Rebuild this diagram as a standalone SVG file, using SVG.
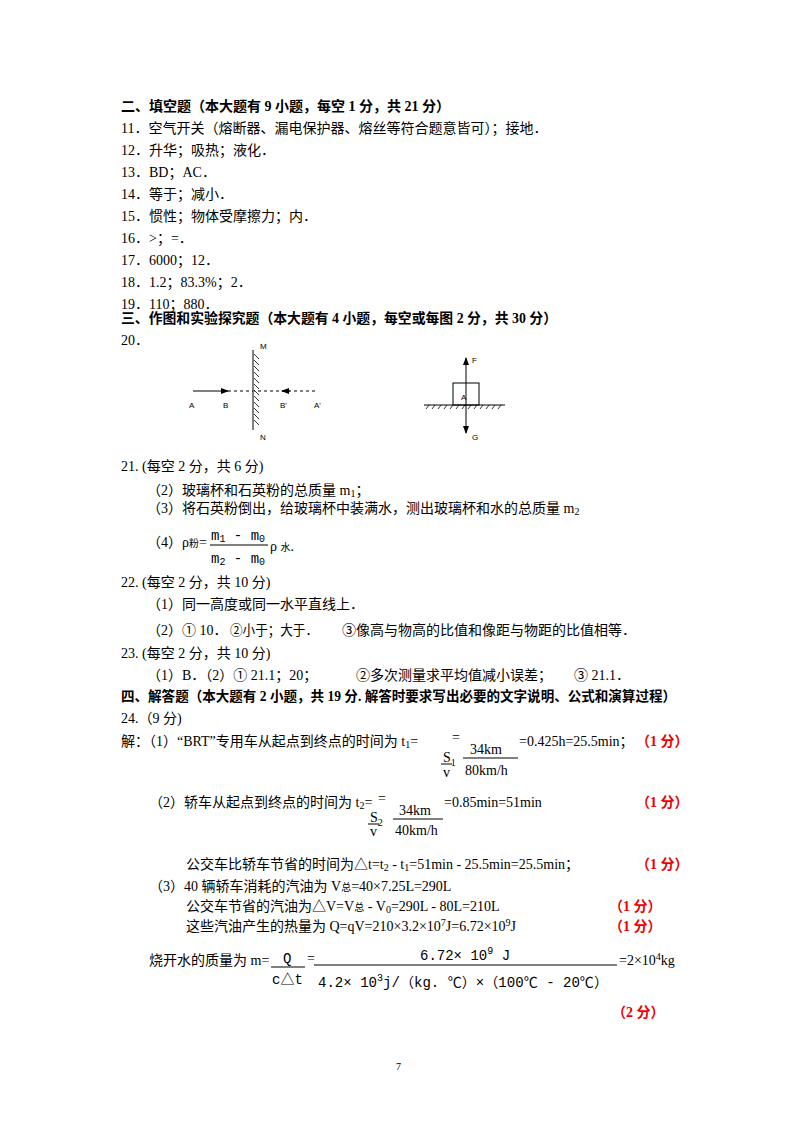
<svg xmlns="http://www.w3.org/2000/svg" width="800" height="1132" viewBox="0 0 800 1132">
<defs>
<style>
text{font-family:"Liberation Serif","Noto Sans CJK SC",serif;font-size:14px;fill:#000}
.b{font-weight:bold}
.r{fill:#e00;font-weight:bold}
.s{font-size:10px}
.m{font-family:"Liberation Mono","Noto Sans CJK SC",monospace;font-size:14px}
.f{font-family:"Liberation Sans",sans-serif;font-size:8px}
line{stroke:#000;stroke-width:1}
.d{stroke-dasharray:3,3}
</style>
<marker id="ar" markerWidth="8" markerHeight="6" refX="7" refY="3" orient="auto" markerUnits="userSpaceOnUse"><path d="M0,0L8,3L0,6z" fill="#000"/></marker>
</defs>
<rect width="800" height="1132" fill="#fff"/>
<text x="121" y="111" class="b">二、填空题（本大题有 9 小题，每空 1 分，共 21 分）</text>
<text x="121" y="133">11．空气开关（熔断器、漏电保护器、熔丝等符合题意皆可）；接地．</text>
<text x="121" y="155">12．升华；吸热；液化．</text>
<text x="121" y="177">13．BD；AC．</text>
<text x="121" y="199">14．等于；减小．</text>
<text x="121" y="221">15．惯性；物体受摩擦力；内．</text>
<text x="121" y="243">16．&gt;；=．</text>
<text x="121" y="265">17．6000；12．</text>
<text x="121" y="287">18．1.2；83.3%；2．</text>
<text x="121" y="309">19．110；880．</text>
<text x="121" y="323" class="b" textLength="436" lengthAdjust="spacingAndGlyphs">三、作图和实验探究题（本大题有 4 小题，每空或每图 2 分，共 30 分）</text>
<text x="121" y="345">20．</text>
<g id="fig1">
<line x1="253" y1="350" x2="253" y2="430" stroke-width="2.5"/>
<path d="M254,354l5,5M254,360l5,5M254,366l5,5M254,372l5,5M254,378l5,5M254,384l5,5M254,390l5,5M254,396l5,5M254,402l5,5M254,408l5,5M254,414l5,5M254,420l5,5" stroke="#000" stroke-width="0.8"/>
<line x1="193" y1="391" x2="228" y2="391" marker-end="url(#ar)"/>
<line x1="228" y1="391" x2="253" y2="391" class="d"/>
<line x1="315" y1="391" x2="254" y2="391" class="d"/>
<line x1="290" y1="391" x2="282" y2="391" marker-end="url(#ar)"/>
<text x="189" y="408" class="f">A</text><text x="223" y="408" class="f">B</text>
<text x="280" y="408" class="f">B'</text><text x="314" y="408" class="f">A'</text>
<text x="260" y="349" class="f">M</text><text x="260" y="440" class="f">N</text>
</g>
<g id="fig2">
<line x1="424" y1="405" x2="505" y2="405" stroke-width="1.5"/>
<path d="M426,409l3,-4M432,409l3,-4M438,409l3,-4M444,409l3,-4M450,409l3,-4M456,409l3,-4M462,409l3,-4M468,409l3,-4M474,409l3,-4M480,409l3,-4M486,409l3,-4M492,409l3,-4M498,409l3,-4" stroke="#000" stroke-width="0.8"/>
<rect x="453" y="383" width="26" height="22" fill="none" stroke="#000"/>
<line x1="466" y1="398" x2="466" y2="358" marker-end="url(#ar)"/>
<line x1="466" y1="398" x2="466" y2="433" marker-end="url(#ar)"/>
<text x="461" y="400" class="f">A</text>
<text x="472" y="363" class="f">F</text><text x="472" y="440" class="f">G</text>
</g>
<text x="121" y="471">21. (每空 2 分，共 6 分)</text>
<text x="147" y="495">（2）玻璃杯和石英粉的总质量 m<tspan class="s" dy="2">1</tspan><tspan dy="-2">；</tspan></text>
<text x="147" y="513">（3）将石英粉倒出，给玻璃杯中装满水，测出玻璃杯和水的总质量 m<tspan class="s" dy="2">2</tspan></text>
<text x="147" y="547">（4）ρ<tspan class="s">粉</tspan>=</text>
<text x="211" y="540" class="m">m<tspan class="s" dy="2">1</tspan><tspan dy="-2"> - m</tspan><tspan class="s" dy="2">0</tspan></text>
<line x1="210" y1="545" x2="268" y2="545"/>
<text x="211" y="563" class="m">m<tspan class="s" dy="2">2</tspan><tspan dy="-2"> - m</tspan><tspan class="s" dy="2">0</tspan></text>
<text x="270" y="551">ρ <tspan class="s">水</tspan>.</text>
<text x="121" y="587">22. (每空 2 分，共 10 分)</text>
<text x="147" y="609">（1）同一高度或同一水平直线上．</text>
<text x="147" y="635">（2）① 10．</text><text x="230" y="635" textLength="88" lengthAdjust="spacingAndGlyphs">②小于；大于．</text><text x="342" y="635">③像高与物高的比值和像距与物距的比值相等．</text>
<text x="121" y="658">23. (每空 2 分，共 10 分)</text>
<text x="147" y="680">（1）B．（2）① 21.1；20；</text><text x="356" y="680">②多次测量求平均值减小误差；</text><text x="574" y="680">③ 21.1．</text>
<text x="121" y="701" class="b" textLength="555" lengthAdjust="spacingAndGlyphs">四、解答题（本大题有 2 小题，共 19 分. 解答时要求写出必要的文字说明、公式和演算过程）</text>
<text x="121" y="723">24.（9 分)</text>
<text x="121" y="746">解：（1）“BRT”专用车从起点到终点的时间为 t<tspan class="s" dy="2">1</tspan><tspan dy="-2">=</tspan></text>
<text x="443" y="762">S<tspan class="s" dy="4">1</tspan></text><text x="452" y="742">=</text>
<line x1="441" y1="764" x2="452" y2="764"/><text x="443" y="777">v</text>
<text x="470" y="754">34km</text><line x1="463" y1="758" x2="518" y2="758"/><text x="465" y="775">80km/h</text>
<text x="519" y="746">=0.425h=25.5min；</text><text x="636" y="746" class="r">（1 分）</text>
<text x="149" y="807">（2）轿车从起点到终点的时间为 t<tspan class="s" dy="2">2</tspan><tspan dy="-2">=</tspan></text>
<text x="370" y="822">S<tspan class="s" dy="4">2</tspan></text><text x="378" y="803">=</text>
<line x1="368" y1="824" x2="379" y2="824"/><text x="370" y="836">v</text>
<text x="399" y="815">34km</text><line x1="393" y1="819" x2="443" y2="819"/><text x="395" y="835">40km/h</text>
<text x="444" y="807">=0.85min=51min</text><text x="636" y="807" class="r">（1 分）</text>
<text x="186" y="869">公交车比轿车节省的时间为△t=t<tspan class="s" dy="2">2</tspan><tspan dy="-2"> - t</tspan><tspan class="s" dy="2">1</tspan><tspan dy="-2">=51min - 25.5min=25.5min；</tspan></text><text x="636" y="869" class="r">（1 分）</text>
<text x="149" y="891">（3）40 辆轿车消耗的汽油为 V<tspan class="s">总</tspan>=40×7.25L=290L</text>
<text x="186" y="911">公交车节省的汽油为△V=V<tspan class="s">总</tspan> - V<tspan class="s" dy="2">0</tspan><tspan dy="-2">=290L - 80L=210L</tspan></text><text x="609" y="911" class="r">（1 分）</text>
<text x="186" y="931">这些汽油产生的热量为 Q=qV=210×3.2×10<tspan class="s" dy="-5">7</tspan><tspan dy="5">J=6.72×10</tspan><tspan class="s" dy="-5">9</tspan><tspan dy="5">J</tspan></text><text x="609" y="931" class="r">（1 分）</text>
<text x="149" y="965">烧开水的质量为 m=</text>
<text x="283" y="963" class="m">Q</text><line x1="271" y1="967" x2="305" y2="967"/><text x="307" y="963">=</text>
<text x="272" y="984" class="m">c△t</text>
<text x="420" y="960" class="m">6.72× 10<tspan class="s" dy="-6">9</tspan><tspan dy="6"> J</tspan></text>
<line x1="314" y1="965" x2="617" y2="965"/>
<text x="318" y="987" class="m" textLength="290" lengthAdjust="spacingAndGlyphs">4.2× 10<tspan class="s" dy="-6">3</tspan><tspan dy="6">j/（kg. ℃）×（100℃ - 20℃）</tspan></text>
<text x="619" y="965">=2×10<tspan class="s" dy="-5">4</tspan><tspan dy="5">kg</tspan></text>
<text x="612" y="1017" class="r">（2 分）</text>
<text x="396" y="1070" class="s">7</text>
</svg>
